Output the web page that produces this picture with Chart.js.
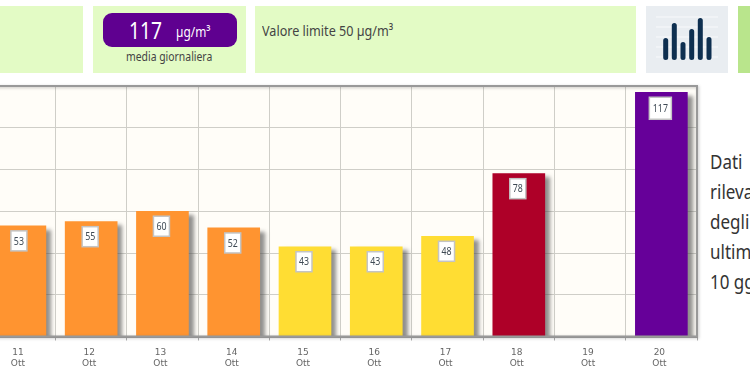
<!DOCTYPE html>
<html>
<head>
<meta charset="utf-8">
<script src="https://cdn.jsdelivr.net/npm/chart.js@4/dist/chart.umd.min.js"></script>
<style>
  html, body { margin: 0; padding: 0; background: #fff; }
  body { position: relative; width: 750px; height: 375px; overflow: hidden; font-family: "Noto Sans", sans-serif; color: #444; }
  .tile { position: absolute; top: 6px; height: 67px; background: #e3fbc5; }
  .stretto { display: inline-block; transform: scaleX(0.82); transform-origin: left top; white-space: nowrap; }
  #badge { position: absolute; left: 103px; top: 13px; width: 134px; height: 34px; border-radius: 9px; background: #5f0090; color: #fff; }
  #badge-num { position: absolute; left: 26px; top: 1px; font-size: 24px; line-height: 32px; transform: scaleX(0.8); }
  #badge-unit { position: absolute; left: 73px; top: 5px; font-size: 14px; line-height: 28px; transform: scaleX(0.85); }
  #media { position: absolute; left: 126px; top: 47px; font-size: 13px; line-height: 18px; color: #444; transform: scaleX(0.8); }
  #limite { position: absolute; left: 262px; top: 20px; font-size: 15px; line-height: 20px; color: #444; transform: scaleX(0.84); }
  #note { position: absolute; left: 710px; top: 147px; font-size: 20px; line-height: 30px; color: #333; transform: scaleX(0.85); }
  #chart-box { position: absolute; left: -60px; top: 80px; width: 780px; height: 295px; }
</style>
</head>
<body>
<div class="tile" style="left:0;width:83px"></div>
<div class="tile" style="left:93px;width:153px"></div>
<div class="tile" style="left:255px;width:381px"></div>
<div class="tile" style="left:646px;width:82px;background:#e9edf1">
  <svg width="82" height="67" viewBox="0 0 82 67">
    <g stroke="#f8f9fb" stroke-width="1"><path d="M10 11H72M10 21H72M10 31H72M10 41H72M10 51H72"/></g>
    <g stroke="#0e2f50" stroke-width="5" stroke-linecap="round">
      <path d="M19.700 34.500V51.500M28.300 19.500V51.500M37 38.500V51.500M45.700 25.500V51.500M54.300 14.500V51.500M63 33.500V51.500"/>
    </g>
  </svg>
</div>
<div class="tile" style="left:738px;width:12px;background:#b9e58c"></div>
<div id="badge"><span id="badge-num" class="stretto">117</span><span id="badge-unit" class="stretto">µg/m³</span></div>
<div id="media" class="stretto">media giornaliera</div>
<div id="limite" class="stretto">Valore limite 50 µg/m³</div>
<div id="note" class="stretto">Dati<br>rilevati<br>degli<br>ultimi<br>10 gg</div>
<div id="chart-box"><canvas id="pm-chart"></canvas></div>

<script>
const giorni = ['11', '12', '13', '14', '15', '16', '17', '18', '19', '20'];
const mese = 'Ott';
const valori = [53, 55, 60, 52, 43, 43, 48, 78, null, 117];
const colori = ['#ff9430', '#ff9430', '#ff9430', '#ff9430', '#ffdd33', '#ffdd33', '#ffdd33', '#ae0028', '#ae0028', '#660099'];

// sfondo e cornice dell'area del grafico
const cornice = {
  id: 'cornice',
  beforeDraw(chart) {
    let { ctx, chartArea: a } = chart;
    ctx.save();
    ctx.fillStyle = '#fffdf8';
    ctx.fillRect(a.left, a.top, a.width, a.height);
    ctx.restore();
  },
  afterDatasetsDraw(chart) {
    let { ctx, chartArea: a } = chart;
    ctx.save();
    ctx.strokeStyle = '#999';
    ctx.lineWidth = 2;
    ctx.shadowColor = 'rgba(90,90,90,0.35)';
    ctx.shadowBlur = 3;
    ctx.shadowOffsetX = 1;
    ctx.shadowOffsetY = 1;
    ctx.strokeRect(a.left, a.top, a.width, a.height);
    ctx.restore();
  }
};

// ombra delle barre
const ombra = {
  id: 'ombra',
  beforeDatasetDraw(chart) {
    let ctx = chart.ctx;
    ctx.save();
    ctx.shadowColor = 'rgba(70,70,70,0.6)';
    ctx.shadowBlur = 4;
    ctx.shadowOffsetX = 5;
    ctx.shadowOffsetY = 4;
  },
  afterDatasetDraw(chart) {
    chart.ctx.restore();
  }
};

// etichette bianche dentro le barre
const etichette = {
  id: 'etichette',
  afterDatasetsDraw(chart) {
    let ctx = chart.ctx;
    chart.getDatasetMeta(0).data.forEach((bar, i) => {
      if (valori[i] === null) return;
      let testo = String(valori[i]);
      let w = testo.length > 2 ? 22 : 16;
      let h = testo.length > 2 ? 22 : 20;
      let top = bar.y + 5;
      ctx.save();
      ctx.fillStyle = '#fff';
      ctx.strokeStyle = '#c4c4c4';
      ctx.lineWidth = 1.5;
      ctx.fillRect(bar.x - w / 2 - 1, top, w, h);
      ctx.strokeRect(bar.x - w / 2 - 1, top, w, h);
      ctx.fillStyle = '#3f4a55';
      ctx.font = '11px "Noto Sans", sans-serif';
      ctx.textAlign = 'center';
      ctx.textBaseline = 'middle';
      ctx.translate(bar.x - 1, top + h / 2 + 0.5);
      ctx.scale(0.8, 1);
      ctx.fillText(testo, 0, 0);
      ctx.restore();
    });
  }
};

new Chart(document.getElementById('pm-chart'), {
  type: 'bar',
  data: {
    labels: giorni.map(g => [g, mese]),
    datasets: [{ data: valori, backgroundColor: colori, barThickness: 52 }]
  },
  options: {
    responsive: true,
    maintainAspectRatio: false,
    animation: false,
    layout: { padding: { left: 44.25, right: 23, top: 6, bottom: 0 } },
    plugins: { legend: { display: false }, tooltip: { enabled: false } },
    scales: {
      x: {
        afterFit(s) { s.height = 38.5; },
        grid: { color: '#cfcec8', tickColor: '#aaa', tickLength: 4 },
        border: { color: '#999', width: 2 },
        ticks: { color: '#666', font: { family: 'DejaVu Sans', size: 9, lineHeight: 1.2 }, maxRotation: 0, padding: 7, labelOffset: -2 }
      },
      y: {
        min: 0,
        max: 120,
        afterFit(s) { s.width = 0; },
        grid: { color: '#cfcec8', drawTicks: false },
        border: { display: false },
        ticks: { display: false, stepSize: 20 }
      }
    }
  },
  plugins: [cornice, ombra, etichette]
});
</script>
</body>
</html>
